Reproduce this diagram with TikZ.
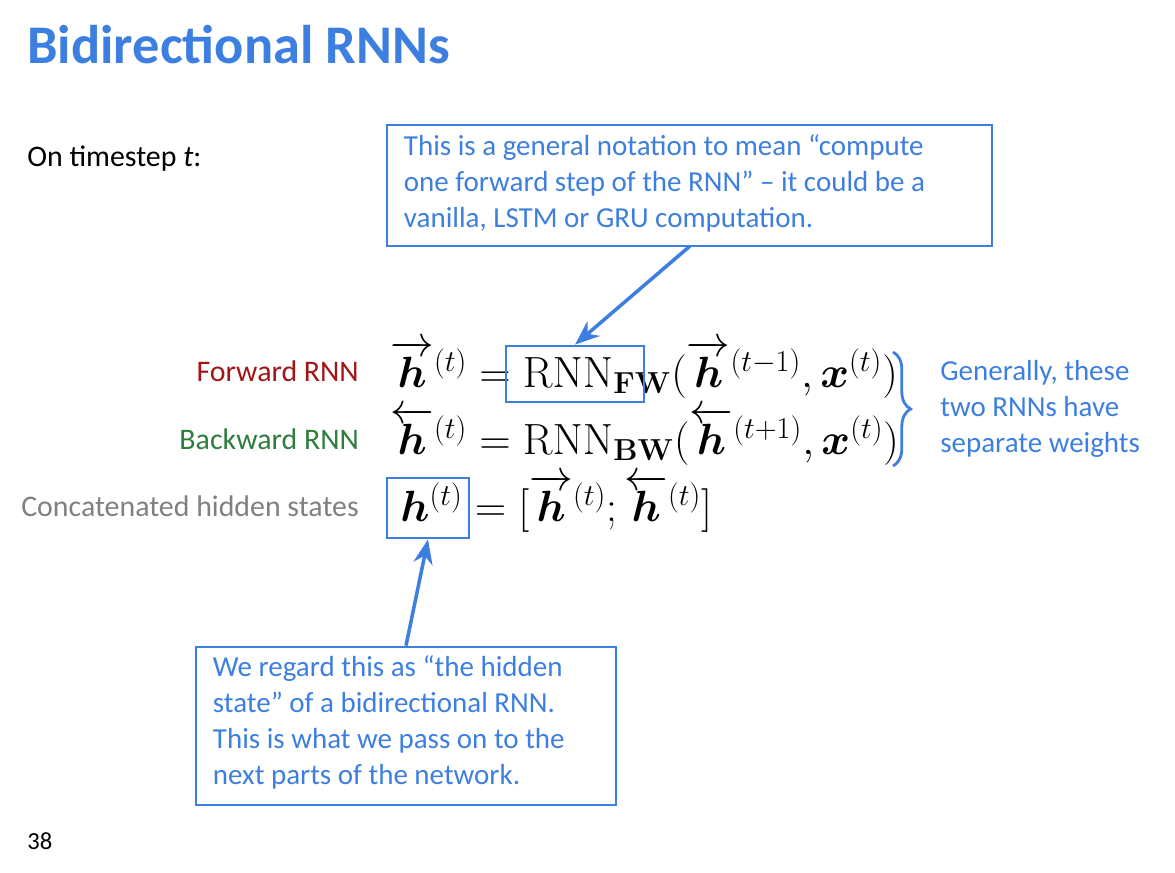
\documentclass[tikz,border=0pt]{standalone}
\usepackage{amsmath,bm}
\usepackage[no-math]{fontspec}
\setmainfont{Carlito}
\usetikzlibrary{decorations.pathreplacing,arrows.meta}
\definecolor{sblue}{HTML}{3D7FE0}
\definecolor{fwred}{HTML}{A31515}
\definecolor{bwgreen}{HTML}{2E7D3E}
\tikzset{
  bluebox/.style={draw=sblue,line width=1.6pt,inner sep=0pt},
  note/.style={bluebox,align=left,text=sblue,font=\fontsize{16.5}{20.6}\selectfont,inner xsep=6pt},
  lbl/.style={anchor=base east,font=\fontsize{17}{20}\selectfont},
  eq/.style={anchor=base west,font=\fontsize{23.5}{28}\selectfont,inner sep=0pt},
  pointer/.style={draw=sblue,line width=2pt,-{Stealth[length=14pt,width=11pt]}}
}
\begin{document}
\begin{tikzpicture}[x=0.02cm,y=-0.02cm]
\useasboundingbox (0,0) rectangle (1175,872);
\node[anchor=base west,inner sep=0pt,text=sblue,font=\fontsize{31}{36}\selectfont\bfseries] (title) at (27,63) {Bidirectional RNNs};
\node[anchor=base west,inner sep=0pt,font=\fontsize{17}{20}\selectfont] (ts) at (27,166) {On timestep \textit{t}:};
\node[bluebox,minimum width=12.1cm,minimum height=2.42cm] (top) at (689.5,185.5) {};
\node[note,draw=none,anchor=north west] (toptxt) at (392,133) {This is a general notation to mean “compute\\one forward step of the RNN” -- it could be a\\vanilla, LSTM or GRU computation.};
\node[lbl,text=fwred] (l1) at (365,381) {Forward RNN};
\node[lbl,text=bwgreen] (l2) at (365,449) {Backward RNN};
\node[lbl,text=gray] (l3) at (365,516) {Concatenated hidden states};
\node[eq] (e1) at (390,387) {$\overrightarrow{\bm h}^{(t)} = \mathrm{RNN}_{\mathbf{FW}}(\overrightarrow{\bm h}^{(t-1)},\bm x^{(t)})$};
\node[eq] (e2) at (390,454) {$\overleftarrow{\bm h}^{(t)} = \mathrm{RNN}_{\mathbf{BW}}(\overleftarrow{\bm h}^{(t+1)},\bm x^{(t)})$};
\node[eq] (e3) at (400,521) {$\bm h^{(t)} = [\overrightarrow{\bm h}^{(t)};\overleftarrow{\bm h}^{(t)}]$};
\node[bluebox,minimum width=2.76cm,minimum height=1.12cm] (fw) at (575,374) {};
\node[bluebox,minimum width=1.64cm,minimum height=1.2cm] (hb) at (428,508) {};
\draw[draw=sblue,line width=1.6pt,decorate,decoration={brace,amplitude=10pt}] (893,352) -- (893,466) coordinate[midway] (bm);
\node[anchor=north west,align=left,text=sblue,font=\fontsize{16.5}{20.6}\selectfont,inner sep=0pt] (gen) at (940,360) {Generally, these\\two RNNs have\\separate weights};
\node[bluebox,minimum width=8.4cm,minimum height=3.16cm] (bot) at (406,726) {};
\node[note,draw=none,anchor=north west] (bottxt) at (201,654) {We regard this as “the hidden\\state” of a bidirectional RNN.\\This is what we pass on to the\\next parts of the network.};
\draw[pointer] (690,246) -- (fw.north);
\draw[pointer] (bot.north) -- (hb.south);
\node[anchor=base west,inner sep=0pt,font=\fontsize{14}{16}\selectfont] (pg) at (27,849) {38};
\end{tikzpicture}
\end{document}
